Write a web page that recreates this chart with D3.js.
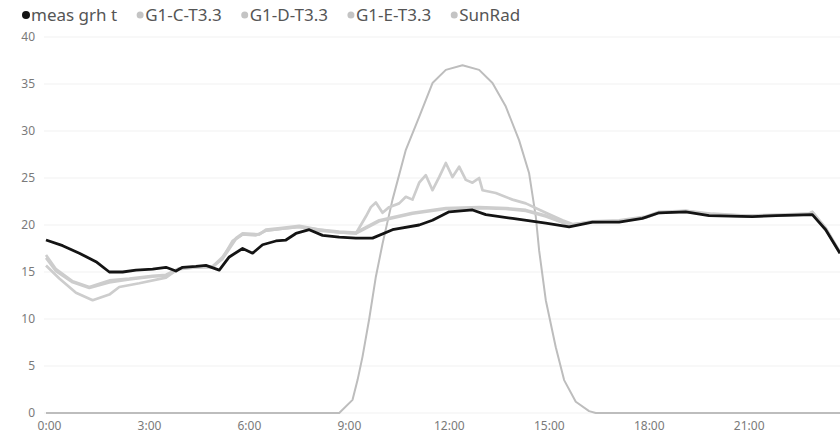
<!DOCTYPE html>
<head>
	<script src="https://d3js.org/d3.v7.min.js"></script>
	<style>
		body { margin: 0; background: #fff; }
		text { font-family: "Segoe UI", "Noto Sans", sans-serif; }
	</style>
</head>
<body>
	<script type="text/javascript">

		var w = 840;
		var h = 437;

		// hours of the day
		var seriesNames = ["meas grh t", "G1-C-T3.3", "G1-D-T3.3", "G1-E-T3.3", "SunRad"];
		var yTicks = [0, 5, 10, 15, 20, 25, 30, 35, 40];
		var xTicks = [0, 3, 6, 9, 12, 15, 18, 21];
		var xTickLabels = ["0:00", "3:00", "6:00", "9:00", "12:00", "15:00", "18:00", "21:00"];

		var measGrh = [[0,18.4],[0.5,17.8],[1,17.0],[1.5,16.1],[1.9,15.0],[2.3,15.0],[2.7,15.2],[3.2,15.3],[3.6,15.5],[3.9,15.1],[4.1,15.5],[4.5,15.6],[4.8,15.7],[5.2,15.2],[5.5,16.6],[5.9,17.5],[6.2,17.0],[6.5,17.9],[6.9,18.3],[7.2,18.4],[7.5,19.1],[7.9,19.5],[8.3,18.9],[8.8,18.7],[9.3,18.6],[9.8,18.6],[10.4,19.5],[11.2,20.0],[11.6,20.5],[12.1,21.4],[12.8,21.6],[13.2,21.1],[14.0,20.7],[15.0,20.2],[15.7,19.8],[16.4,20.3],[17.2,20.3],[17.9,20.7],[18.4,21.3],[19.2,21.4],[19.9,21.0],[21.2,20.9],[21.9,21.0],[23.0,21.1],[23.4,19.5],[23.83,17.0]];

		var g1C = [[0,16.8],[0.3,15.3],[0.8,14.0],[1.3,13.4],[1.9,14.1],[2.5,14.3],[3.2,14.6],[3.6,14.7],[4.0,15.4],[4.5,15.5],[5.0,15.6],[5.3,16.6],[5.7,18.6],[5.9,19.1],[6.4,19.0],[6.6,19.5],[7.1,19.7],[7.6,19.9],[8.2,19.5],[8.8,19.3],[9.3,19.2],[10.0,20.5],[11.0,21.3],[12.0,21.8],[13.0,21.9],[13.8,21.8],[14.4,21.6],[15.0,21.0],[15.7,20.0],[16.4,20.4],[17.2,20.5],[18.0,20.9],[18.4,21.4],[19.2,21.5],[20.0,21.2],[21.0,21.0],[22.0,21.1],[22.9,21.2],[23.0,21.4],[23.4,19.7],[23.83,17.1]];

		var g1D = [[0,15.7],[0.4,14.3],[0.9,12.8],[1.4,12.0],[1.9,12.6],[2.2,13.4],[2.8,13.8],[3.6,14.4],[4.0,15.4],[4.5,15.5],[5.0,15.5],[5.3,16.5],[5.6,18.3],[5.9,19.0],[6.3,18.9],[6.6,19.4],[7.1,19.6],[7.6,19.8],[8.2,19.5],[8.8,19.2],[9.3,19.1],[9.6,20.9],[9.75,21.9],[9.9,22.4],[10.1,21.3],[10.3,21.9],[10.6,22.3],[10.8,23.0],[11.0,22.7],[11.2,24.5],[11.4,25.3],[11.6,23.7],[11.8,25.1],[12.0,26.6],[12.2,25.1],[12.4,26.2],[12.6,24.8],[12.8,24.5],[13.0,25.0],[13.1,23.7],[13.5,23.4],[14.0,22.7],[14.4,22.3],[15.0,21.3],[15.5,20.5],[15.8,20.1],[16.4,20.3],[17.2,20.4],[18.0,20.8],[18.4,21.3],[19.2,21.5],[20.0,21.1],[21.0,20.9],[22.0,21.0],[22.9,21.2],[23.0,21.4],[23.4,19.6],[23.83,17.0]];

		var g1E = [[0,16.5],[0.3,15.1],[0.8,13.9],[1.3,13.3],[1.9,13.9],[2.5,14.2],[3.2,14.5],[3.6,14.6],[4.0,15.3],[4.5,15.5],[5.0,15.6],[5.3,16.4],[5.7,18.5],[5.9,19.0],[6.4,19.0],[6.6,19.4],[7.1,19.6],[7.6,19.8],[8.2,19.4],[8.8,19.2],[9.3,19.1],[10.0,20.4],[11.0,21.2],[12.0,21.7],[13.0,21.8],[13.8,21.7],[14.4,21.5],[15.0,20.9],[15.7,20.0],[16.4,20.3],[17.2,20.4],[18.0,20.8],[18.4,21.3],[19.2,21.4],[20.0,21.1],[21.0,21.0],[22.0,21.0],[22.9,21.1],[23.0,21.3],[23.4,19.6],[23.83,17.0]];

		var sunRad = [[0,0],[8.8,0],[9.2,1.4],[9.35,3.5],[9.5,6],[9.7,10],[9.9,14.5],[10.1,18],[10.4,22.7],[10.8,28],[11.2,31.5],[11.6,35.1],[12.0,36.5],[12.5,37],[13.0,36.5],[13.4,35.1],[13.8,32.6],[14.2,29],[14.5,25.5],[14.7,20.9],[14.8,17.3],[15.0,12],[15.3,7],[15.55,3.5],[15.9,1.2],[16.3,0.2],[16.5,0],[23.83,0]];

		var seriesData = [measGrh, g1C, g1D, g1E, sunRad];
		var colors = ["#141414", "#cdcdcd", "#cdcdcd", "#cdcdcd", "#bdbdbd"];
		var widths = [2.8, 2.7, 2.7, 2.7, 2];

		var svg = d3.select("body")
				.append("svg")
				.attr("width", w)
				.attr("height", h);

		var xScale = d3.scaleLinear()
					.domain([0, 23.83])
					.range([46, 840]);

		var yScale = d3.scaleLinear()
					.domain([0, 40])
					.range([413, 37]);

		// faint gridlines
		svg.selectAll("line.grid")
			.data(yTicks)
			.enter()
			.append("line")
			.attr("class", "grid")
			.attr("x1", 44)
			.attr("x2", w)
			.attr("y1", function(d){ return yScale(d); })
			.attr("y2", function(d){ return yScale(d); })
			.attr("stroke", "#f1f1f1")
			.attr("stroke-width", 1);

		var yAxis = svg.append("g")
			.attr("transform", "translate(40,0)")
			.call(d3.axisLeft(yScale).tickValues(yTicks).tickSize(0).tickPadding(5));

		var xAxis = svg.append("g")
			.attr("transform", "translate(0,413)")
			.call(d3.axisBottom(xScale).tickValues(xTicks)
				.tickFormat(function(d, i){ return xTickLabels[i]; })
				.tickSize(0).tickPadding(8));

		svg.selectAll(".domain").remove();
		svg.selectAll(".tick text")
			.attr("fill", "#7a7a7a")
			.style("font-size", "12px")
			.style("font-family", "'Segoe UI', 'Noto Sans', sans-serif");
		xAxis.selectAll(".tick text").attr("x", 3);

		var line = d3.line()
				.x(function(d){ return xScale(d[0]); })
				.y(function(d){ return yScale(d[1]); });

		// draw grey ones first, black on top
		var order = [4, 3, 2, 1, 0];
		svg.selectAll("path.series")
			.data(order)
			.enter()
			.append("path")
			.attr("class", "series")
			.attr("d", function(i){ return line(seriesData[i]); })
			.attr("fill", "none")
			.attr("stroke", function(i){ return colors[i]; })
			.attr("stroke-width", function(i){ return widths[i]; })
			.attr("stroke-linejoin", "round");

		// legend
		var legend = svg.append("g").attr("transform", "translate(0,15)");
		var lx = 26;
		seriesNames.forEach(function(name, i){
			var g = legend.append("g").attr("transform", "translate(" + lx + ",0)");
			g.append("circle")
				.attr("cx", 0)
				.attr("cy", 0)
				.attr("r", i == 0 ? 4 : 3.5)
				.attr("fill", i == 0 ? "#141414" : "#c4c4c4");
			var t = g.append("text")
				.attr("x", 5)
				.attr("y", 5.5)
				.attr("fill", "#555")
				.style("font-size", "17px")
				.text(name);
			lx += 5 + t.node().getComputedTextLength() + 23;
		});

	</script>
</body>
